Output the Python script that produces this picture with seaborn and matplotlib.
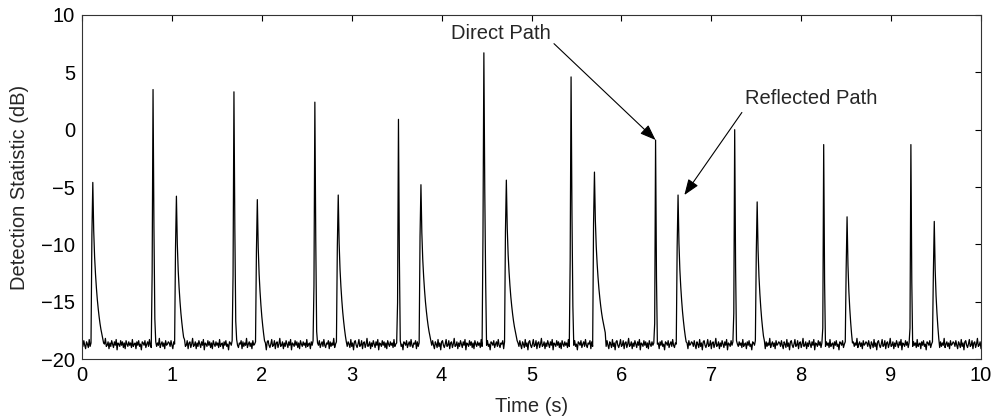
import numpy as np
import pandas as pd
import matplotlib
matplotlib.use("Agg")
import matplotlib.pyplot as plt
import seaborn as sns

# Arrival times (s), peak levels (dB) and path type for every detected pulse
peak_times = [0.12, 0.79, 1.05, 1.69, 1.95, 2.59, 2.85, 3.52, 3.77, 4.47, 4.72,
              5.44, 5.70, 6.38, 6.63, 7.26, 7.51, 8.25, 8.51, 9.22, 9.48]
peak_levels = [-4.6, 3.5, -5.8, 3.3, -6.1, 2.4, -5.7, 0.9, -4.8, 6.7, -4.4,
               4.6, -3.7, -0.9, -5.7, 0.0, -6.3, -1.3, -7.6, -1.3, -8.0]
peak_kinds = ["R", "D", "R", "D", "R", "D", "R", "D", "R", "D", "R",
              "D", "R", "D", "R", "D", "R", "D", "R", "D", "R"]

# Pulse shapes, dB relative to the peak sample; first entry is one sample early
direct_shape = [-16.0, 0.0, -12.0, -20.0]
reflected_shape = [-4.5, 0.0, -4.2, -6.5, -8.0, -9.2, -10.2, -11.0, -11.7,
                   -12.3, -12.8, -13.2, -13.6, -14.0]

# Background detection floor (dB) and its sample-to-sample ripple
floor_level = -18.7
floor_ripple = [0.1, -0.2, 0.3, -0.1, -0.4, 0.2, 0.0, -0.3, 0.4, -0.2, 0.1, -0.5,
                0.2, 0.3, -0.1, -0.3, 0.0, 0.4, -0.2, -0.1, 0.3, -0.4, 0.1, 0.2,
                -0.3, 0.0, 0.5, -0.2, -0.1, 0.2, -0.4, 0.1, -0.2, 0.3, 0.0, -0.3,
                0.2, -0.1, 0.4, -0.5, 0.1, 0.0, -0.2, 0.3, -0.1, 0.2, -0.3, 0.1,
                -0.4, 0.3, 0.0, -0.2, 0.2, -0.1, 0.1, -0.3, 0.4, -0.2, 0.0, 0.1,
                -0.4, 0.2, -0.1, 0.3, -0.2, 0.0, -0.5, 0.2, 0.1, -0.1, 0.3, -0.3,
                0.0, 0.2, -0.2, 0.4, -0.1, -0.3, 0.1, 0.0, 0.3, -0.4, 0.2, -0.2,
                0.1, -0.1, 0.5, -0.3, 0.0, 0.2, -0.2, 0.1, -0.4, 0.3, -0.1, 0.0, 0.2]

dt = 0.01
time = np.round(np.arange(0, 10 + dt / 2, dt), 2)
stat = floor_level + np.resize(np.array(floor_ripple), len(time))

for tp, lv, kind in zip(peak_times, peak_levels, peak_kinds):
    shape = direct_shape if kind == "D" else reflected_shape
    i0 = int(round(tp / dt)) - 1
    for k, off in enumerate(shape):
        j = i0 + k
        if 0 <= j < len(stat):
            stat[j] = max(stat[j], lv + off)

df = pd.DataFrame({"Time (s)": time, "Detection Statistic (dB)": stat})

sns.set_theme(style="white")
plt.rcParams["font.family"] = ["Liberation Sans", "DejaVu Sans"]

FS = 14.5
fig = plt.figure(figsize=(9.99, 4.20), dpi=100)
ax = fig.add_axes([0.0821, 0.1452, 0.8999, 0.8191])

sns.lineplot(data=df, x="Time (s)", y="Detection Statistic (dB)", ax=ax,
             color="black", linewidth=0.9, estimator=None, sort=False)

ax.set_xlim(0, 10)
ax.set_ylim(-20, 10)
ax.set_xticks(range(0, 11))
ax.set_yticks(range(-20, 11, 5))
ax.tick_params(direction="in", top=True, right=True, length=4, width=0.8,
               labelsize=FS, colors="black")
ax.tick_params(axis="x", pad=5)
ax.tick_params(axis="y", pad=5)
for s in ax.spines.values():
    s.set_visible(True)
    s.set_color("#333333")
    s.set_linewidth(0.8)
ax.set_xlabel("Time (s)", fontsize=FS, labelpad=9)
ax.set_ylabel("Detection Statistic (dB)", fontsize=FS, labelpad=9)

arrow = dict(arrowstyle="-|>,head_length=0.8,head_width=0.3", color="black",
             lw=0.8, shrinkA=0, shrinkB=0)
ax.annotate("", xy=(6.38, -0.9), xytext=(5.25, 7.5), arrowprops=arrow)
ax.text(4.66, 8.4, "Direct Path", ha="center", va="center", fontsize=FS)
ax.annotate("", xy=(6.70, -5.7), xytext=(7.34, 1.5), arrowprops=arrow)
ax.text(8.11, 2.75, "Reflected Path", ha="center", va="center", fontsize=FS)

fig.savefig("out.png", dpi=100)
